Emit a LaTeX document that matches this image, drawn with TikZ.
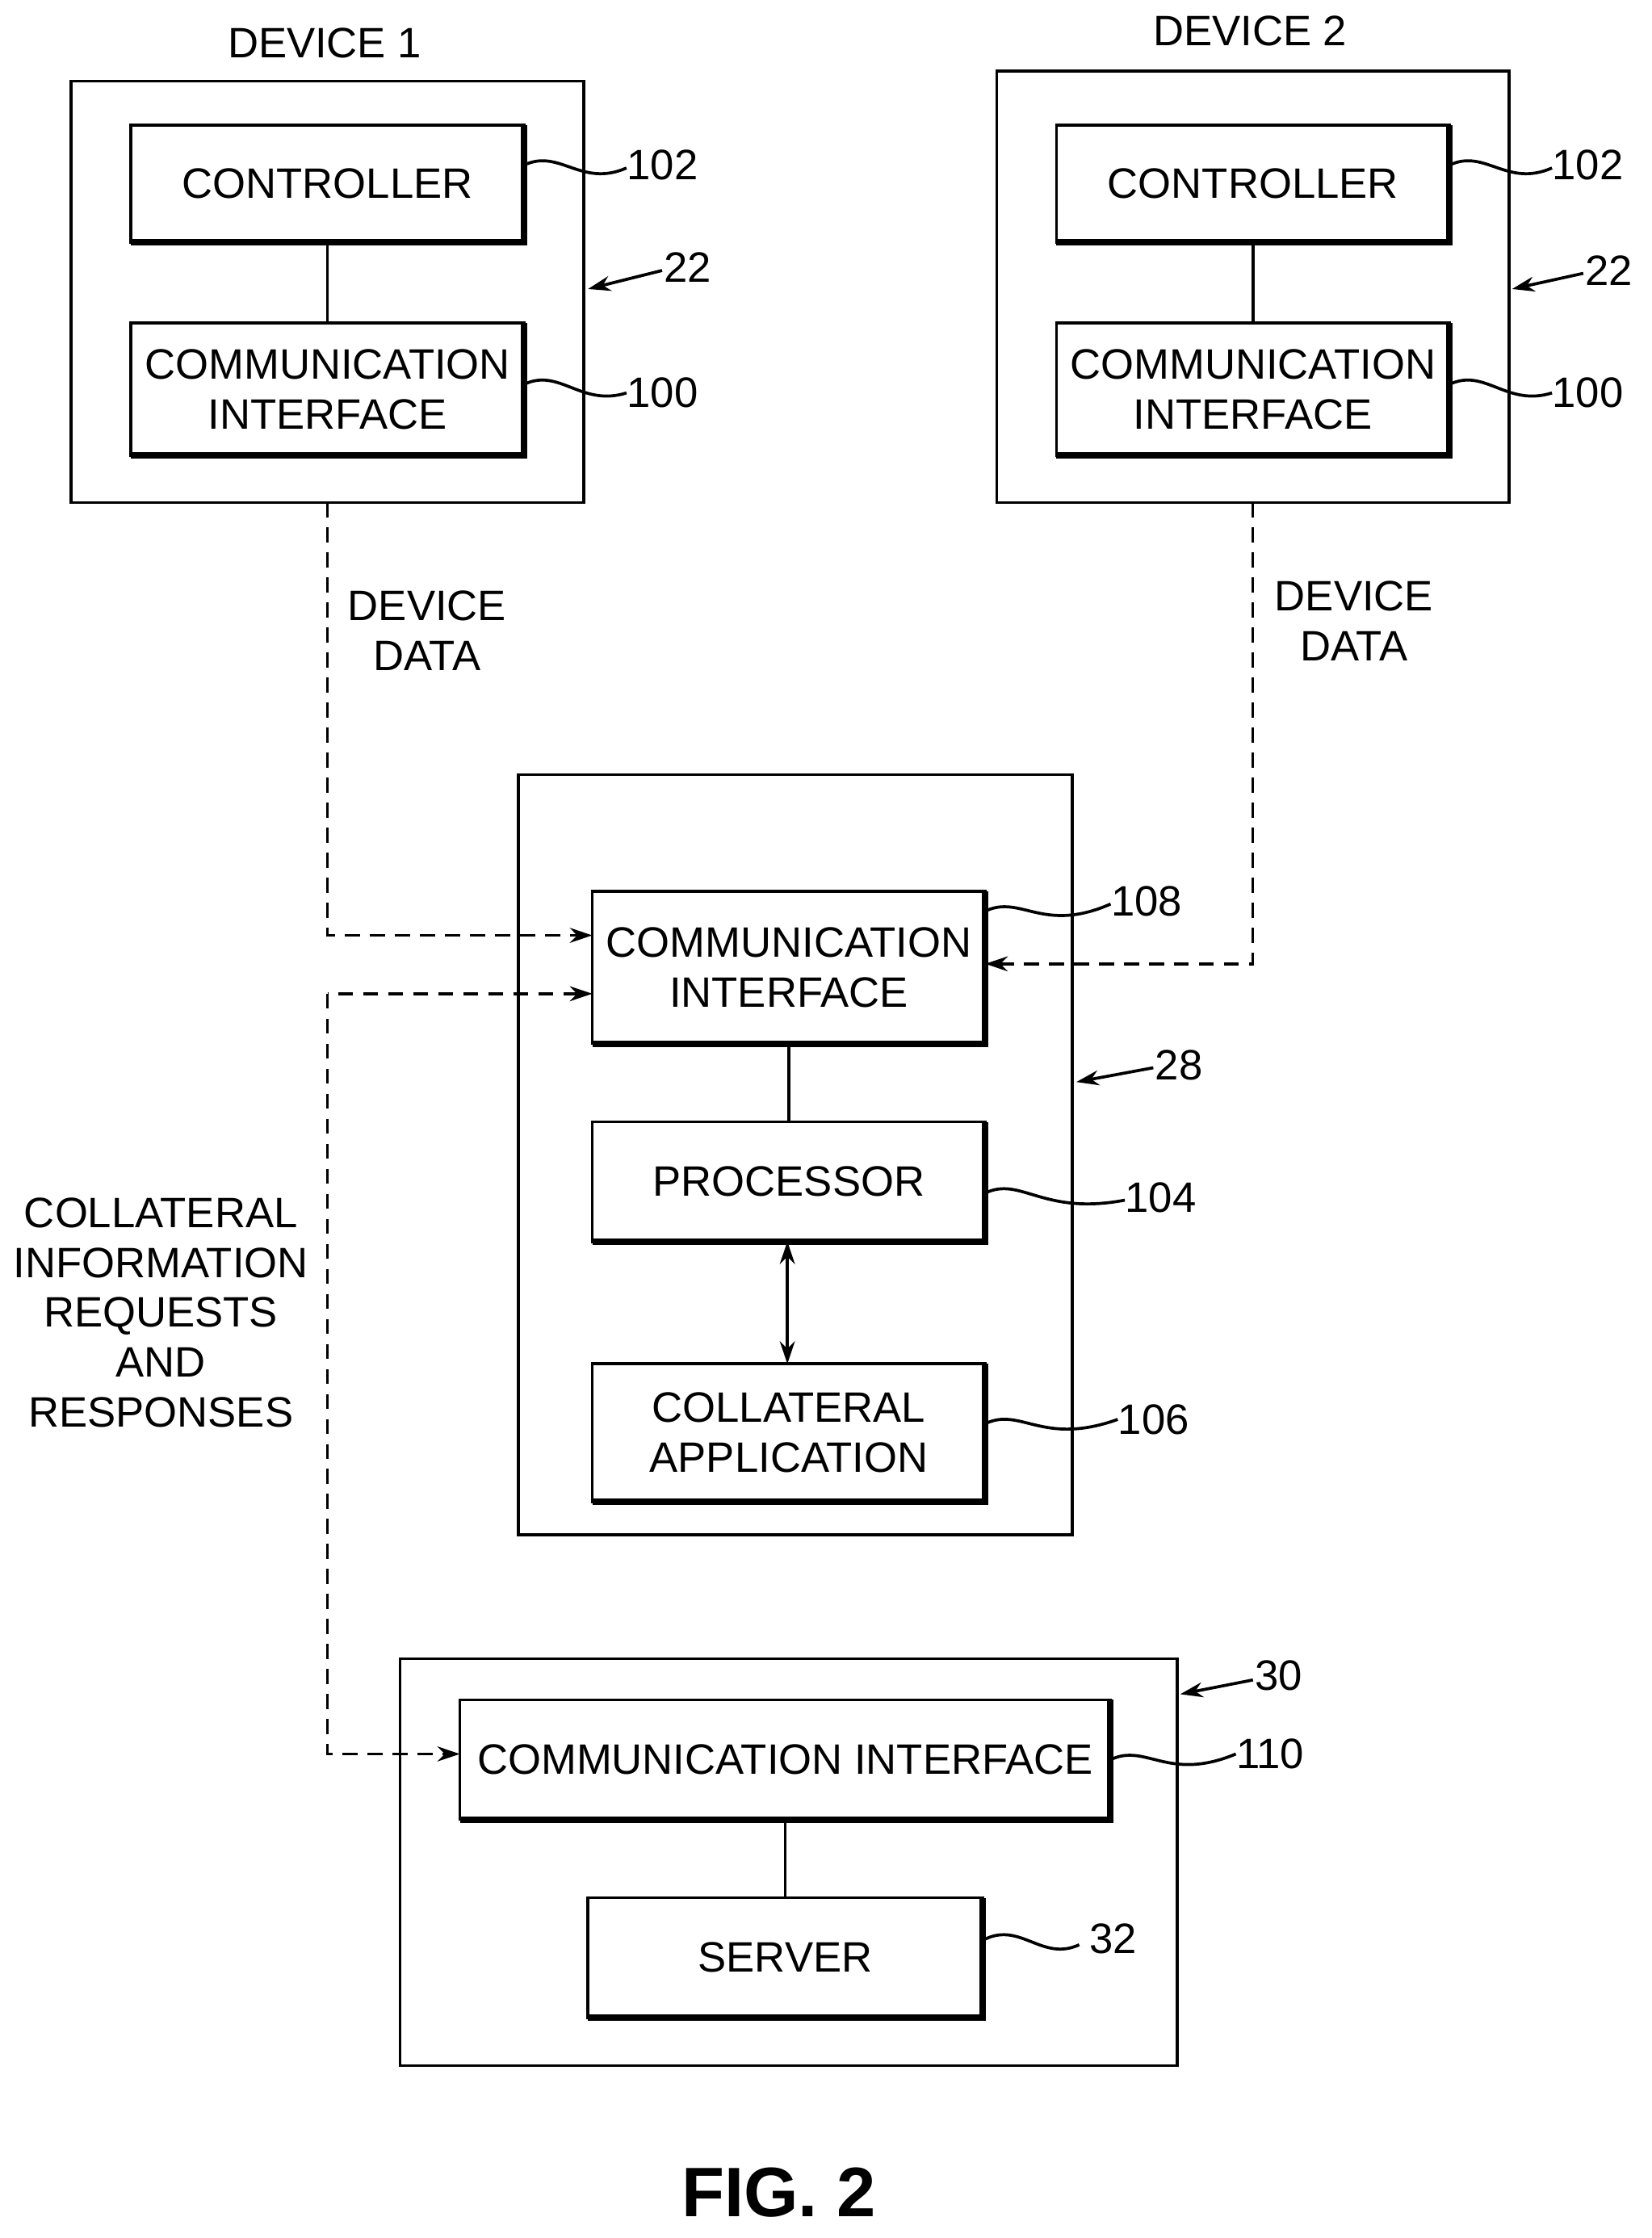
\documentclass[tikz,border=0pt]{standalone}
\usepackage{fontspec}
\setmainfont{Liberation Sans}
\usetikzlibrary{arrows.meta}
\begin{document}
\begin{tikzpicture}[x=0.02cm,y=-0.02cm,
  txt/.style={font=\fontsize{17}{20}\selectfont,align=center,inner sep=0},
  lbl/.style={font=\fontsize{17}{20}\selectfont,inner sep=0},
  ln/.style={line width=1.2pt},
  dsh/.style={line width=1.1pt,dash pattern=on 6pt off 4pt},
  arr/.style={-{Stealth[length=9pt,width=6pt]}},
  tip/.style={{Stealth[length=9pt,width=6pt]}-}]
\useasboundingbox (0,0) rectangle (1160,1572);
\newcommand{\shb}[6]{%
  \node[draw,ln,minimum width={(#4-#2)*0.02cm},minimum height={(#5-#3)*0.02cm},inner sep=0,txt] (#1) at ({(#2+#4)/2},{(#3+#5)/2}) {#6};
  \draw[line width=2.6pt] (#2,#5) -- (#4,#5) -- (#4,#3);}
\newcommand{\sq}[4]{\draw[ln] (#1,#2) .. controls (#1+25,#2-12) and (#1+40,#2+16) .. (#3,#4);}
% device 1
\node[draw,ln,minimum width=7.2cm,minimum height=5.92cm] (d1) at (230,205) {};
\node[lbl] (d1t) at (228,30) {DEVICE 1};
\shb{c1}{92}{88}{368}{170}{CONTROLLER}
\shb{ci1}{92}{227}{368}{320}{COMMUNICATION\\INTERFACE}
\draw[ln] (c1) -- (ci1);
\sq{368}{116}{440}{118}\node[lbl,anchor=west] (n102a) at (440,116) {102};
\sq{368}{270}{440}{276}\node[lbl,anchor=west] (n100a) at (440,276) {100};
\node[lbl] (n22a) at (483,188) {22};
\draw[ln,arr] (465,190) -- (413,203);
% device 2
\node[draw,ln,minimum width=7.2cm,minimum height=6.06cm] (d2) at (880,201.5) {};
\node[lbl] (d2t) at (878,22) {DEVICE 2};
\shb{c2}{742}{88}{1018}{170}{CONTROLLER}
\shb{ci2}{742}{227}{1018}{320}{COMMUNICATION\\INTERFACE}
\draw[ln] (c2) -- (ci2);
\sq{1018}{116}{1090}{118}\node[lbl,anchor=west] (n102b) at (1090,116) {102};
\sq{1018}{270}{1090}{276}\node[lbl,anchor=west] (n100b) at (1090,276) {100};
\node[lbl] (n22b) at (1130,190) {22};
\draw[ln,arr] (1112,192) -- (1062,203);
% center
\node[draw,ln,minimum width=7.78cm,minimum height=10.68cm] (ctr) at (558.5,811) {};
\shb{ci3}{416}{626}{692}{733}{COMMUNICATION\\INTERFACE}
\shb{pr}{416}{788}{692}{872}{PROCESSOR}
\shb{ca}{416}{958}{692}{1055}{COLLATERAL\\APPLICATION}
\draw[ln] (ci3) -- (pr);
\draw[ln,{Stealth[length=9pt,width=6pt]}-{Stealth[length=9pt,width=6pt]}] (553,872) -- (553,958);
\sq{692}{640}{780}{635}\node[lbl,anchor=west] (n108) at (780,633) {108};
\sq{692}{838}{790}{843}\node[lbl,anchor=west] (n104) at (790,841) {104};
\sq{692}{1000}{785}{997}\node[lbl,anchor=west] (n106) at (785,997) {106};
\node[lbl] (n28) at (828,748) {28};
\draw[ln,arr] (810,750) -- (756,760);
% bottom
\node[draw,ln,minimum width=10.92cm,minimum height=5.72cm] (bt) at (554,1308) {};
\shb{ci4}{323}{1194}{780}{1278}{COMMUNICATION INTERFACE}
\shb{sv}{413}{1333}{690}{1417}{SERVER}
\draw[ln] (ci4) -- (sv);
\sq{780}{1236}{868}{1232}\node[lbl,anchor=west] (n110) at (868,1232) {110};
\sq{692}{1362}{758}{1366}\node[lbl,anchor=west] (n32) at (765,1362) {32};
\node[lbl] (n30) at (898,1177) {30};
\draw[ln,arr] (880,1180) -- (829,1190);
% dashed connectors
\coordinate (a1) at (230,657);
\coordinate (a2) at (880,677);
\coordinate (b1) at (230,698);
\coordinate (b2) at (230,1232);
\draw[dsh,arr] (230,353) -- (a1) -- (416,657);
\draw[dsh,arr] (880,353) -- (a2) -- (692,677);
\draw[dsh,arr] (b1) -- (b2) -- (323,1232);
\draw[dsh,tip] (416,698) -- (b1);
\node[txt] (dd1) at (300,443) {DEVICE\\DATA};
\node[txt] (dd2) at (951,436) {DEVICE\\DATA};
\node[txt,align=center] (cir) at (113,922) {COLLATERAL\\INFORMATION\\REQUESTS\\AND\\RESPONSES};
\node[font=\bfseries\fontsize{28}{32}\selectfont,inner sep=0] (fig) at (547,1540) {FIG. 2};
\end{tikzpicture}
\end{document}
